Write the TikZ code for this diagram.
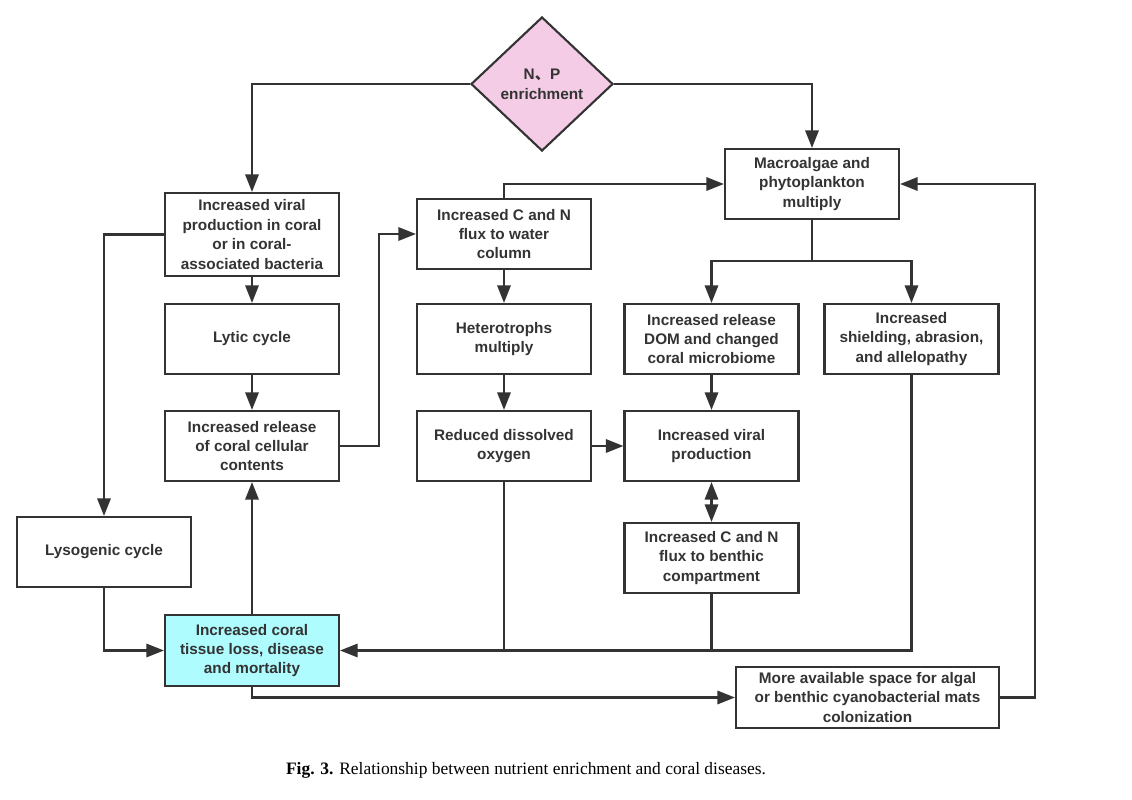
\documentclass[tikz,border=0pt]{standalone}
\usepackage{fontspec}
\setmainfont{Liberation Serif}
\setsansfont{Liberation Sans}
\newfontfamily\cjk{Noto Sans CJK SC}
\usetikzlibrary{shapes.geometric,arrows.meta}
\definecolor{ink}{HTML}{333333}
\definecolor{npink}{HTML}{F5CCE6}
\definecolor{lcyan}{HTML}{AFFCFF}

\begin{document}
\begin{tikzpicture}[x=0.025cm, y=-0.025cm, >={Triangle[length=12.5pt,width=9.5pt]},
    box/.style={rectangle, draw=ink, line width=1.5pt, minimum width=4.35cm, minimum height=1.75cm,
      inner sep=2pt, align=center, text=ink, font=\sffamily\bfseries\fontsize{10.9}{13.8}\selectfont},
    link/.style={draw=ink, line width=1.5pt},
    arr/.style={->, draw=ink, line width=1.5pt}]
        \useasboundingbox (0,0) rectangle (1132,800);
        % Nodes
        \node[diamond, draw=ink, line width=1.5pt, fill=npink, inner sep=0pt, minimum width=3.55cm,
          minimum height=3.35cm, align=center, text=ink, font=\sffamily\bfseries\fontsize{10.9}{14.5}\selectfont]
          (np) at (542,84) {N{\cjk 、}P\\enrichment};
        \node[box, minimum height=2.075cm] (vir) at (252,234.5) {Increased viral\\production in coral\\or in coral-\\associated bacteria};
        \node[box] (lytic) at (252,339) {Lytic cycle};
        \node[box] (release) at (252,446) {Increased release\\of coral cellular\\contents};
        \node[box] (lyso) at (104,552) {Lysogenic cycle};
        \node[box, fill=lcyan, minimum height=1.775cm] (tissue) at (252,650.5) {Increased coral\\tissue loss, disease\\and mortality};
        \node[box] (cnw) at (504,234) {Increased C and N\\flux to water\\column};
        \node[box] (hetero) at (504,339) {Heterotrophs\\multiply};
        \node[box] (rdo) at (504,446) {Reduced dissolved\\oxygen};
        \node[box] (macro) at (812,184) {Macroalgae and\\phytoplankton\\multiply};
        \node[box] (dom) at (711.5,339) {Increased release\\DOM and changed\\coral microbiome};
        \node[box] (shield) at (911.5,339) {Increased\\shielding, abrasion,\\and allelopathy};
        \node[box] (vprod) at (711.5,446) {Increased viral\\production};
        \node[box] (cnb) at (711.5,558) {Increased C and N\\flux to benthic\\compartment};
        \node[box, minimum width=6.575cm, minimum height=1.525cm] (space) at (867.5,697.5) {More available space for algal\\or benthic cyanobacterial mats\\colonization};
        \coordinate (split) at (812,261);
        \coordinate (back) at (1035,184);

        % Edges
        \draw[arr] (np.west) -| (vir.north);
        \draw[arr] (np.east) -| (macro.north);
        \draw[arr] (vir.west) -| (lyso.north);
        \draw[arr] (vir) -- (lytic);
        \draw[arr] (lytic) -- (release);
        \draw[arr] (release.east) -- ++(39,0) |- (cnw.west);
        \draw[arr] (cnw.north) |- (macro.west);
        \draw[arr] (cnw) -- (hetero);
        \draw[arr] (hetero) -- (rdo);
        \draw[arr] (rdo) -- (vprod);
        \draw[link] (macro.south) -- (split);
        \draw[arr] (split) -| (dom.north);
        \draw[arr] (split) -| (shield.north);
        \draw[arr] (dom) -- (vprod);
        \draw[<->, draw=ink, line width=1.5pt] (vprod) -- (cnb);
        \draw[arr] (shield.south) |- (tissue.east);
        \draw[link] (rdo.south) -- (rdo.south |- tissue.east);
        \draw[link] (cnb.south) -- (cnb.south |- tissue.east);
        \draw[arr] (lyso.south) |- (tissue.west);
        \draw[arr] (tissue) -- (release);
        \draw[arr] (tissue.south) |- (space.west);
        \draw[arr] (space.east) -| (back) -- (macro.east);

        % Labels
        \node[font=\rmfamily\fontsize{12.4}{14}\selectfont] (caption) at (526,770)
          {\textbf{Fig. 3.} Relationship between nutrient enrichment and coral diseases.};
    \end{tikzpicture}
\end{document}
